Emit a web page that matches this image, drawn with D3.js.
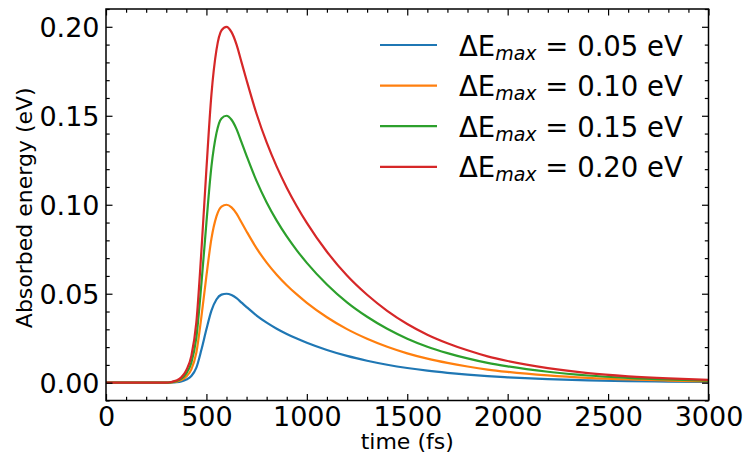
<!DOCTYPE html>
<html>
<head>
<meta charset="utf-8">
<script src="https://cdn.jsdelivr.net/npm/d3@7"></script>
<style>
  html, body { margin: 0; padding: 0; background: #fff; }
  svg { display: block; }
  text { font-family: "DejaVu Sans", sans-serif; fill: #000; }
</style>
</head>
<body>
<svg id="chart" width="743" height="454"></svg>
<script>
// ---- data ----
const times = [0,100,200,300,325,350,375,400,425,450,475,500,525,550,575,600,625,650,675,700,750,800,850,900,950,1000,1100,1200,1300,1400,1500,1600,1700,1800,1900,2000,2200,2400,2600,2800,3000];
const e005 = [0,0,0,0,0.0001,0.0003,0.00075,0.00175,0.00375,0.0085,0.0185,0.030,0.0405,0.04675,0.0495,0.050,0.04925,0.0475,0.045,0.0425,0.03775,0.03375,0.03035,0.0274,0.0248,0.02245,0.0184,0.01505,0.01235,0.0101,0.00825,0.00675,0.00555,0.00455,0.0037,0.00305,0.00205,0.00135,0.0009,0.0006,0.0004];
const e010 = [0,0,0,0,0.0002,0.0006,0.0015,0.0035,0.0075,0.017,0.037,0.060,0.081,0.0935,0.099,0.100,0.0985,0.095,0.090,0.085,0.0755,0.0675,0.0607,0.0548,0.0496,0.0449,0.0368,0.0301,0.0247,0.0202,0.0165,0.0135,0.0111,0.0091,0.0074,0.0061,0.0041,0.0027,0.0018,0.0012,0.0008];
const e015 = [0,0,0,0,0.0003,0.0009,0.00225,0.00525,0.01125,0.0255,0.0555,0.090,0.1215,0.14025,0.1485,0.150,0.14775,0.1425,0.135,0.1275,0.11325,0.10125,0.09105,0.0822,0.0744,0.06735,0.0552,0.04515,0.03705,0.0303,0.02475,0.02025,0.01665,0.01365,0.0111,0.00915,0.00615,0.00405,0.0027,0.0018,0.0012];
const e020 = [0,0,0,0,0.0004,0.0012,0.003,0.007,0.015,0.034,0.074,0.120,0.162,0.187,0.198,0.200,0.197,0.190,0.180,0.170,0.151,0.135,0.1214,0.1096,0.0992,0.0898,0.0736,0.0602,0.0494,0.0404,0.033,0.027,0.0222,0.0182,0.0148,0.0122,0.0082,0.0054,0.0036,0.0024,0.0016];
const seriesLabels = ["0.05", "0.10", "0.15", "0.20"];
const seriesValues = [e005, e010, e015, e020];
const colors = ["#1f77b4", "#ff7f0e", "#2ca02c", "#d62728"];
const xMajorTicks = [0, 500, 1000, 1500, 2000, 2500, 3000];
const yMajorTicks = [0.00, 0.05, 0.10, 0.15, 0.20];
const xLabel = "time (fs)";
const yLabel = "Absorbed energy (eV)";

// ---- layout ----
const L = 106, R = 708.5, T = 9, B = 400.5;
const svg = d3.select("#chart");
const x = d3.scaleLinear().domain([0, 3000]).range([L, R]);
const y = d3.scaleLinear().domain([-0.01, 0.21]).range([B, T]);

const xMinor = d3.range(0, 3001, 100).filter(v => v % 500 !== 0);
const yMinor = d3.range(-1, 22).map(i => i / 100).filter(v => Math.round(v * 100) % 5 !== 0 && v >= -0.01 && v <= 0.21);

// curves
const plot = svg.append("g");
plot.append("clipPath").attr("id", "clip").append("rect")
  .attr("x", L).attr("y", T).attr("width", R - L).attr("height", B - T);
const line = d3.line().x((d, i) => x(times[i])).y(d => y(d)).curve(d3.curveMonotoneX);
seriesValues.forEach((vals, k) => {
  plot.append("path").datum(vals)
    .attr("d", line)
    .attr("fill", "none")
    .attr("stroke", colors[k])
    .attr("stroke-width", 2.2)
    .attr("stroke-linejoin", "round")
    .attr("clip-path", "url(#clip)");
});

// axes with inward ticks on all four sides
function tickStyle(g) {
  g.select(".domain").remove();
  g.selectAll(".tick line").attr("stroke", "#000").attr("stroke-width", 1.2);
}
const tickFont = 27;
// bottom
svg.append("g").attr("transform", `translate(0,${B})`)
  .call(d3.axisBottom(x).tickValues(xMajorTicks).tickSizeInner(-6.5).tickSizeOuter(0).tickPadding(0).tickFormat(d3.format("d")))
  .call(tickStyle)
  .call(g => g.selectAll(".tick text").attr("y", 25.5).attr("dy", null)
    .attr("font-size", tickFont).attr("font-family", "DejaVu Sans").attr("fill", "#000"));
svg.append("g").attr("transform", `translate(0,${B})`)
  .call(d3.axisBottom(x).tickValues(xMinor).tickSizeInner(-3.7).tickSizeOuter(0).tickFormat(""))
  .call(tickStyle);
// top
svg.append("g").attr("transform", `translate(0,${T})`)
  .call(d3.axisTop(x).tickValues(xMajorTicks).tickSizeInner(-6.5).tickSizeOuter(0).tickFormat(""))
  .call(tickStyle);
svg.append("g").attr("transform", `translate(0,${T})`)
  .call(d3.axisTop(x).tickValues(xMinor).tickSizeInner(-3.7).tickSizeOuter(0).tickFormat(""))
  .call(tickStyle);
// left
svg.append("g").attr("transform", `translate(${L},0)`)
  .call(d3.axisLeft(y).tickValues(yMajorTicks).tickSizeInner(-6.5).tickSizeOuter(0).tickFormat(d3.format(".2f")))
  .call(tickStyle)
  .call(g => g.selectAll(".tick text").attr("x", -6.5).attr("dy", "0.36em")
    .attr("font-size", tickFont).attr("font-family", "DejaVu Sans").attr("fill", "#000"));
svg.append("g").attr("transform", `translate(${L},0)`)
  .call(d3.axisLeft(y).tickValues(yMinor).tickSizeInner(-3.7).tickSizeOuter(0).tickFormat(""))
  .call(tickStyle);
// right
svg.append("g").attr("transform", `translate(${R},0)`)
  .call(d3.axisRight(y).tickValues(yMajorTicks).tickSizeInner(-6.5).tickSizeOuter(0).tickFormat(""))
  .call(tickStyle);
svg.append("g").attr("transform", `translate(${R},0)`)
  .call(d3.axisRight(y).tickValues(yMinor).tickSizeInner(-3.7).tickSizeOuter(0).tickFormat(""))
  .call(tickStyle);

// frame
svg.append("rect").attr("x", L).attr("y", T).attr("width", R - L).attr("height", B - T)
  .attr("fill", "none").attr("stroke", "#000").attr("stroke-width", 1.5);

// axis labels
svg.append("text").attr("x", (L + R) / 2).attr("y", 448.5).attr("text-anchor", "middle")
  .attr("font-size", 22).text(xLabel);
svg.append("text").attr("transform", `translate(32,${(T + B) / 2 + 3}) rotate(-90)`)
  .attr("text-anchor", "middle").attr("font-size", 22).text(yLabel);

// legend
const lg = svg.append("g");
seriesLabels.forEach((lab, k) => {
  const ly = 45 + k * 40.6;
  lg.append("line").attr("x1", 380).attr("x2", 437).attr("y1", ly).attr("y2", ly)
    .attr("stroke", colors[k]).attr("stroke-width", 2.2);
  const t = lg.append("text").attr("x", 459).attr("y", ly + 10.5).attr("font-size", 27.5);
  t.append("tspan").text("ΔE");
  t.append("tspan").attr("font-size", 19).attr("font-style", "italic").attr("dy", 4).text("max");
  t.append("tspan").attr("dy", -4).text(" = " + lab + " eV");
});
</script>
</body>
</html>
